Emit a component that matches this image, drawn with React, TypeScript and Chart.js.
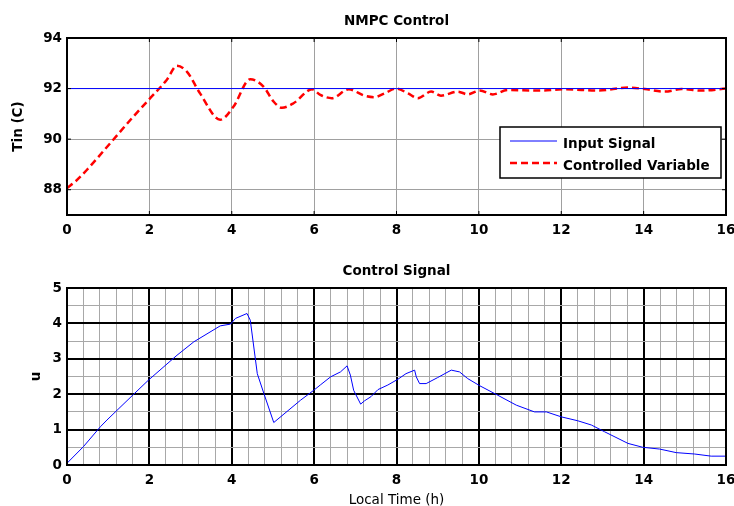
import React, { useEffect, useRef } from 'react';
import { Chart, registerables } from 'chart.js';

Chart.register(...registerables);

// ---------- data ----------
const timeMajorTicks = [0, 2, 4, 6, 8, 10, 12, 14, 16];
const tinTicks = [88, 90, 92, 94];
const uMajorTicks = [0, 1, 2, 3, 4, 5];

const inputTimes = [0, 16];
const inputValues = [92, 92];

const cvTimes = [0, 0.2, 0.48, 1.05, 1.61, 1.98, 2.42, 2.67, 2.91, 3.23, 3.72, 4.04, 4.45, 4.77, 5.02, 5.22, 5.5, 5.95, 6.15, 6.43, 6.84, 7.22, 7.46, 7.7, 7.99, 8.28, 8.52, 8.84, 9.08, 9.49, 9.73, 10.02, 10.34, 10.7, 11.43, 12.08, 12.9, 13.62, 14.03, 14.52, 14.92, 15.4, 16];
const cvValues = [88.07, 88.32, 88.78, 89.84, 90.89, 91.55, 92.34, 92.9, 92.67, 91.81, 90.77, 91.28, 92.37, 92.08, 91.48, 91.24, 91.42, 91.97, 91.75, 91.62, 91.97, 91.72, 91.66, 91.8, 92.0, 91.81, 91.62, 91.88, 91.72, 91.88, 91.77, 91.92, 91.77, 91.94, 91.92, 91.97, 91.92, 92.04, 91.98, 91.88, 91.98, 91.92, 92.0];

const uTimes = [0, 0.4, 0.81, 0.97, 1.62, 1.98, 2.67, 3.08, 3.72, 3.97, 4.09, 4.37, 4.45, 4.62, 4.78, 5.02, 5.67, 5.99, 6.15, 6.4, 6.64, 6.8, 6.88, 6.96, 7.13, 7.22, 7.38, 7.55, 7.79, 8.03, 8.23, 8.44, 8.48, 8.56, 8.72, 9.0, 9.33, 9.53, 9.73, 10.02, 10.46, 10.91, 11.35, 11.64, 12.0, 12.4, 12.73, 13.05, 13.62, 13.98, 14.39, 14.79, 15.24, 15.64, 16.0];
const uValues = [0.05, 0.52, 1.08, 1.27, 2.0, 2.4, 3.1, 3.48, 3.93, 3.98, 4.14, 4.28, 4.09, 2.58, 2.02, 1.2, 1.83, 2.11, 2.26, 2.49, 2.63, 2.8, 2.54, 2.11, 1.72, 1.81, 1.93, 2.13, 2.26, 2.42, 2.58, 2.68, 2.49, 2.3, 2.3, 2.47, 2.68, 2.63, 2.44, 2.24, 1.97, 1.69, 1.5, 1.5, 1.36, 1.25, 1.13, 0.94, 0.61, 0.5, 0.45, 0.35, 0.31, 0.25, 0.25];

const topTitle = 'NMPC Control';
const bottomTitle = 'Control Signal';
const topYLabel = 'Tin (C)';
const bottomYLabel = 'u';
const xLabel = 'Local Time (h)';
const inputLabel = 'Input Signal';
const cvLabel = 'Controlled Variable';

// minor grid subdivisions for the lower plot
const xMinorPerMajor = 5;
const yMinorPerMajor = 2;

// ---------- styling ----------
const FAMILY = "'DejaVu Sans', sans-serif";
const FS = 13.5;
const W = 734;
const H1 = 250;
const H2 = 264;
const AREA_TOP = 38;
const AREA_BOTTOM = 215;
const AREA_LEFT = 67;
const PAD_RIGHT = 8;

const pts = (xs: number[], ys: number[]) => xs.map((x, i) => ({ x, y: ys[i] }));

function subdivide(major: number[], n: number) {
  const out: number[] = [];
  for (let i = 0; i < major.length - 1; i++) {
    for (let k = 0; k < n; k++) {
      out.push(Math.round((major[i] + ((major[i + 1] - major[i]) * k) / n) * 1e6) / 1e6);
    }
  }
  out.push(major[major.length - 1]);
  return out;
}

const isIn = (arr: number[], v: number) => arr.some((a) => Math.abs(a - v) < 1e-6);

function zeroPad(s: any) {
  s.paddingLeft = 0;
  s.paddingRight = 0;
  s.paddingTop = 0;
  s.paddingBottom = 0;
}

function decorPlugin(title: string, withLegend: boolean, xTicks: number[], yTicks: number[]) {
  return {
    id: 'matlabDecor',
    afterDraw(chart: any) {
      const { ctx, chartArea: a, scales } = chart;
      ctx.save();
      // frame
      ctx.strokeStyle = '#000';
      ctx.lineWidth = 2;
      ctx.strokeRect(a.left, a.top, a.right - a.left, a.bottom - a.top);
      // inside tick marks
      ctx.lineWidth = 1;
      ctx.beginPath();
      for (const v of xTicks) {
        const px = scales.x.getPixelForValue(v);
        ctx.moveTo(px, a.top);
        ctx.lineTo(px, a.top + 4);
        ctx.moveTo(px, a.bottom);
        ctx.lineTo(px, a.bottom - 4);
      }
      for (const v of yTicks) {
        const py = scales.y.getPixelForValue(v);
        ctx.moveTo(a.left, py);
        ctx.lineTo(a.left + 4, py);
        ctx.moveTo(a.right, py);
        ctx.lineTo(a.right - 4, py);
      }
      ctx.stroke();
      // title
      ctx.fillStyle = '#000';
      ctx.font = `bold ${FS}px ${FAMILY}`;
      ctx.textAlign = 'center';
      ctx.textBaseline = 'alphabetic';
      ctx.fillText(title, (a.left + a.right) / 2, 25);
      // legend
      if (withLegend) {
        const ds = chart.data.datasets;
        const bw = 221;
        const bh = 51;
        const bx = a.right - 5 - bw;
        const by = a.top + 89;
        ctx.fillStyle = '#fff';
        ctx.fillRect(bx, by, bw, bh);
        ctx.strokeStyle = '#000';
        ctx.lineWidth = 1.5;
        ctx.strokeRect(bx, by, bw, bh);
        const rows = [by + 14, by + 36];
        ds.forEach((d: any, i: number) => {
          ctx.save();
          ctx.strokeStyle = d.borderColor;
          ctx.lineWidth = d.borderWidth;
          ctx.setLineDash(d.borderDash || []);
          ctx.beginPath();
          ctx.moveTo(bx + 10, rows[i]);
          ctx.lineTo(bx + 57, rows[i]);
          ctx.stroke();
          ctx.restore();
          ctx.fillStyle = '#000';
          ctx.textAlign = 'left';
          ctx.textBaseline = 'alphabetic';
          ctx.font = `bold ${FS}px ${FAMILY}`;
          ctx.fillText(d.label, bx + 63, rows[i] + 7);
        });
      }
      ctx.restore();
    },
  };
}

const tickFont = { family: FAMILY, size: FS, weight: 'bold' as const };

function topConfig(): any {
  return {
    type: 'line',
    data: {
      datasets: [
        {
          label: inputLabel,
          data: pts(inputTimes, inputValues),
          borderColor: '#0000ff',
          borderWidth: 1,
          pointRadius: 0,
          tension: 0,
        },
        {
          label: cvLabel,
          data: pts(cvTimes, cvValues),
          borderColor: '#ff0000',
          borderWidth: 2.5,
          borderDash: [7, 4],
          pointRadius: 0,
          cubicInterpolationMode: 'monotone',
        },
      ],
    },
    options: {
      responsive: false,
      animation: false,
      events: [],
      layout: { padding: { top: AREA_TOP, right: PAD_RIGHT, left: 0, bottom: 0 } },
      plugins: { legend: { display: false }, title: { display: false }, tooltip: { enabled: false } },
      scales: {
        x: {
          type: 'linear',
          min: 0,
          max: 16,
          afterBuildTicks: (s: any) => { s.ticks = timeMajorTicks.map((v) => ({ value: v })); },
          afterFit: (s: any) => { s.height = H1 - AREA_BOTTOM; zeroPad(s); },
          ticks: { font: tickFont, color: '#000', padding: 7, maxRotation: 0, autoSkip: false },
          grid: { color: '#a0a0a0', lineWidth: 1, drawTicks: false },
          border: { display: false },
        },
        y: {
          type: 'linear',
          min: 87,
          max: 94,
          afterBuildTicks: (s: any) => { s.ticks = tinTicks.map((v) => ({ value: v })); },
          afterFit: (s: any) => { s.width = AREA_LEFT; zeroPad(s); },
          ticks: { font: tickFont, color: '#000', padding: 5 },
          grid: { color: '#a0a0a0', lineWidth: 1, drawTicks: false },
          border: { display: false },
          title: { display: true, text: topYLabel, font: tickFont, color: '#000', padding: { top: 10.4, bottom: 0 } },
        },
      },
    },
    plugins: [decorPlugin(topTitle, true, timeMajorTicks, tinTicks)],
  };
}

function bottomConfig(): any {
  const xAll = subdivide(timeMajorTicks, xMinorPerMajor);
  const yAll = subdivide(uMajorTicks, yMinorPerMajor);
  return {
    type: 'line',
    data: {
      datasets: [
        {
          label: 'u',
          data: pts(uTimes, uValues),
          borderColor: '#0000ff',
          borderWidth: 1,
          pointRadius: 0,
          tension: 0,
        },
      ],
    },
    options: {
      responsive: false,
      animation: false,
      events: [],
      layout: { padding: { top: AREA_TOP, right: PAD_RIGHT, left: 0, bottom: 0 } },
      plugins: { legend: { display: false }, title: { display: false }, tooltip: { enabled: false } },
      scales: {
        x: {
          type: 'linear',
          min: 0,
          max: 16,
          afterBuildTicks: (s: any) => { s.ticks = xAll.map((v) => ({ value: v })); },
          afterFit: (s: any) => { s.height = H2 - AREA_BOTTOM; zeroPad(s); },
          ticks: {
            font: tickFont,
            color: '#000',
            padding: 7,
            maxRotation: 0,
            autoSkip: false,
            callback: (v: number) => (isIn(timeMajorTicks, v) ? String(v) : ''),
          },
          grid: {
            color: (c: any) => (c.tick && isIn(timeMajorTicks, c.tick.value) ? '#000' : '#a8a8a8'),
            lineWidth: (c: any) => (c.tick && isIn(timeMajorTicks, c.tick.value) ? 2 : 1),
            drawTicks: false,
          },
          border: { display: false },
          title: {
            display: true,
            text: xLabel,
            font: { family: FAMILY, size: FS, weight: 'normal' },
            color: '#000',
            padding: { top: 0, bottom: 5.9 },
          },
        },
        y: {
          type: 'linear',
          min: 0,
          max: 5,
          afterBuildTicks: (s: any) => { s.ticks = yAll.map((v) => ({ value: v })); },
          afterFit: (s: any) => { s.width = AREA_LEFT; zeroPad(s); },
          ticks: {
            font: tickFont,
            color: '#000',
            padding: 5,
            autoSkip: false,
            callback: (v: number) => (isIn(uMajorTicks, v) ? String(v) : ''),
          },
          grid: {
            color: (c: any) => (c.tick && isIn(uMajorTicks, c.tick.value) ? '#000' : '#a8a8a8'),
            lineWidth: (c: any) => (c.tick && isIn(uMajorTicks, c.tick.value) ? 2 : 1),
            drawTicks: false,
          },
          border: { display: false },
          title: { display: true, text: bottomYLabel, font: tickFont, color: '#000', padding: { top: 28, bottom: 0 } },
        },
      },
    },
    plugins: [decorPlugin(bottomTitle, false, timeMajorTicks, uMajorTicks)],
  };
}

export default function App() {
  const topRef = useRef<HTMLCanvasElement>(null);
  const botRef = useRef<HTMLCanvasElement>(null);
  useEffect(() => {
    const c1 = new Chart(topRef.current as HTMLCanvasElement, topConfig());
    const c2 = new Chart(botRef.current as HTMLCanvasElement, bottomConfig());
    return () => {
      c1.destroy();
      c2.destroy();
    };
  }, []);
  return (
    <div style={{ position: 'fixed', left: 0, top: 0, width: W, height: 506, overflow: 'hidden', background: '#fff' }}>
      <canvas ref={topRef} width={W} height={H1} style={{ position: 'absolute', left: 0, top: 0 }} />
      <canvas ref={botRef} width={W} height={H2} style={{ position: 'absolute', left: 0, top: 250 }} />
    </div>
  );
}
